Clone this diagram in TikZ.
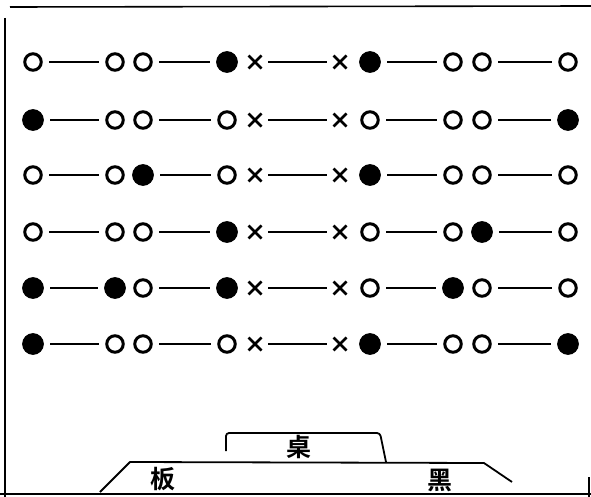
\documentclass[tikz,border=0pt]{standalone}
\usepackage{fontspec}
\newfontfamily\cjk{Noto Sans CJK SC}[BoldFont={Noto Sans CJK SC Bold}]
\usetikzlibrary{shapes.misc}
\tikzset{
  opn/.style={circle, draw, line width=3pt, minimum size=16.5pt, inner sep=0pt},
  fil/.style={circle, draw, fill=black, line width=1.2pt, minimum size=20.5pt, inner sep=0pt},
  crs/.style={cross out, draw, line width=2.5pt, minimum size=10.5pt, inner sep=0pt},
  conn/.style={line width=1.6pt, shorten <=6.5pt, shorten >=6.5pt},
  frame/.style={line width=1.6pt},
  board/.style={line width=1.8pt, line join=round},
  lbl/.style={font=\cjk\fontsize{25}{25}\selectfont\bfseries, inner sep=0pt}
}
\newcommand{\seatrow}[9]{%
  \node[#2] (r#1a) at (33,#1) {};
  \node[#3] (r#1b) at (115,#1) {};
  \node[#4] (r#1c) at (143,#1) {};
  \node[#5] (r#1d) at (227,#1) {};
  \node[crs] (r#1x) at (255,#1) {};
  \node[crs] (r#1y) at (340,#1) {};
  \node[#6] (r#1e) at (370,#1) {};
  \node[#7] (r#1f) at (453,#1) {};
  \node[#8] (r#1g) at (482,#1) {};
  \node[#9] (r#1h) at (568,#1) {};
  \draw[conn] (r#1a) -- (r#1b);
  \draw[conn] (r#1c) -- (r#1d);
  \draw[conn] (r#1x) -- (r#1y);
  \draw[conn] (r#1e) -- (r#1f);
  \draw[conn] (r#1g) -- (r#1h);
}
\begin{document}
\begin{tikzpicture}[x=1pt,y=-1pt]
\useasboundingbox (0,0) rectangle (591,497);
% frame
\draw[frame] (10,7) -- (591,6);
\draw[line width=1.3pt] (5,18) -- (5,497);
\draw[line width=2pt] (0,494) -- (591,494);
\draw[line width=2.2pt] (589,477) -- (589,497);
% seats
\seatrow{62}{opn}{opn}{opn}{fil}{fil}{opn}{opn}{opn}
\seatrow{120}{fil}{opn}{opn}{opn}{opn}{opn}{opn}{fil}
\seatrow{175}{opn}{opn}{fil}{opn}{fil}{opn}{opn}{opn}
\seatrow{232}{opn}{opn}{opn}{fil}{opn}{opn}{fil}{opn}
\seatrow{288}{fil}{fil}{opn}{fil}{opn}{fil}{opn}{opn}
\seatrow{344}{fil}{opn}{opn}{opn}{fil}{opn}{opn}{fil}
% blackboard and desk
\draw[board] (100,492) -- (130,462) -- (484,463) -- (512,482);
\draw[board, rounded corners=3pt] (226,451) -- (226,433) -- (380,433) -- (386,462);
\node[lbl] (desk) at (299,447) {桌};
\node[lbl] (ban) at (163,479) {板};
\node[lbl] (hei) at (440,480) {黑};
\end{tikzpicture}
\end{document}
